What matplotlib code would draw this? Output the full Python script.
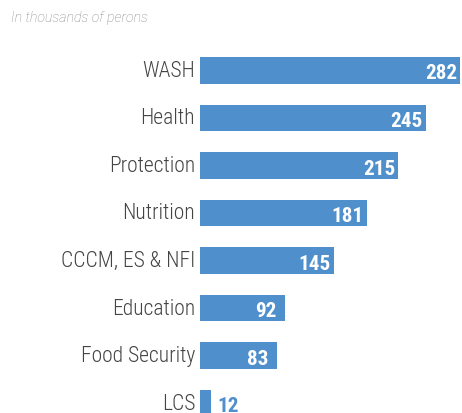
import matplotlib
matplotlib.use("Agg")
import matplotlib.pyplot as plt
from matplotlib import font_manager

categories = ["WASH", "Health", "Protection", "Nutrition", "CCCM, ES & NFI",
              "Education", "Food Security", "LCS"]
values = [282, 245, 215, 181, 145, 92, 83, 12]

names = {f.name for f in font_manager.fontManager.ttflist}
cond = "Roboto Condensed" in names
fam = ["Roboto Condensed", "Roboto", "DejaVu Sans"] if cond else ["Roboto", "DejaVu Sans"]
fam_note = ["Roboto", "DejaVu Sans"]

BLUE = "#4f8fcc"
W, H, DPI = 462, 414, 100
fig = plt.figure(figsize=(W / DPI, H / DPI), dpi=DPI)

# axes spans from the bar baseline to the right edge, running off the bottom
ax = fig.add_axes([200 / W, 0, 1 - 200 / W, (414 - 40) / H])
ypos = list(range(len(categories)))
ax.barh(ypos, values, height=0.561, color=BLUE, align="center")
ax.set_xlim(0, 284.2)
ax.set_ylim(7.204, -0.658)
ax.axis("off")

lab_size = 15.5 if cond else 13.5
val_size = 15.2 if cond else 13.5
for y, cat, v in zip(ypos, categories, values):
    ax.annotate(cat, xy=(0, y), xytext=(-5, -5.4), textcoords="offset pixels",
                ha="right", va="baseline", fontsize=lab_size, family=fam,
                fontweight="light", color="#444444", annotation_clip=False)
    if v > 40:
        pad = -3 if v >= 100 else -8.4
        ax.annotate(str(v), xy=(v, y), xytext=(pad, -8.1), textcoords="offset pixels",
                    ha="right", va="baseline", fontsize=val_size, family=fam,
                    fontweight="bold", color="white", annotation_clip=False)
    else:
        ax.annotate(str(v), xy=(v, y), xytext=(6, -7.5), textcoords="offset pixels",
                    ha="left", va="baseline", fontsize=val_size, family=fam,
                    fontweight="bold", color=BLUE, annotation_clip=False)

fig.text(11 / W, 1 - 22 / H, "In thousands of perons", fontsize=10.2,
         family=fam_note, fontstyle="italic", fontweight="light", color="#888888",
         ha="left", va="baseline")

fig.savefig("out.png", dpi=DPI)
